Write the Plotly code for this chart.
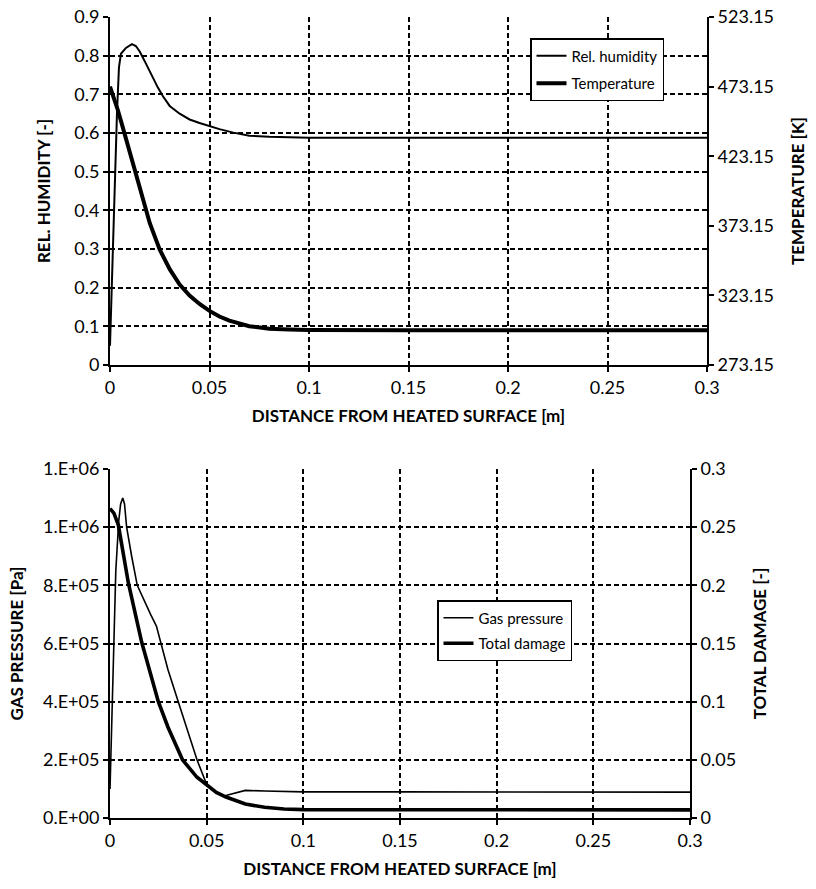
import plotly.graph_objects as go

# ---------------- Top panel data ----------------
dist_rh = [0, 0.0008, 0.0015, 0.0025, 0.0035, 0.0045, 0.0055, 0.008, 0.011, 0.013,
           0.015, 0.018, 0.021, 0.024, 0.0266, 0.030, 0.035, 0.040, 0.045, 0.050,
           0.055, 0.062, 0.070, 0.080, 0.090, 0.10, 0.15, 0.20, 0.25, 0.30]
rel_humidity = [0.05, 0.20, 0.32, 0.47, 0.65, 0.77, 0.805, 0.82, 0.83, 0.825,
                0.81, 0.78, 0.748, 0.718, 0.695, 0.670, 0.650, 0.635, 0.626, 0.618,
                0.610, 0.601, 0.593, 0.590, 0.589, 0.588, 0.588, 0.588, 0.588, 0.588]

dist_temp = [0, 0.002, 0.004, 0.006, 0.008, 0.010, 0.012, 0.014, 0.016, 0.018,
             0.020, 0.025, 0.030, 0.035, 0.040, 0.045, 0.050, 0.055, 0.060, 0.070,
             0.080, 0.090, 0.10, 0.15, 0.20, 0.25, 0.30]
temperature_k = [473.15, 465, 456, 446, 436, 425, 414, 404, 394, 384,
                 375, 356, 342, 331, 323, 317, 312, 308, 305, 301,
                 299.2, 298.6, 298.3, 298.15, 298.15, 298.15, 298.15]

# ---------------- Bottom panel data ----------------
dist_gas = [0, 0.0008, 0.0015, 0.003, 0.0045, 0.0055, 0.0066, 0.0075, 0.0086, 0.0100,
            0.0112, 0.0141, 0.018, 0.021, 0.024, 0.0264, 0.030, 0.0353, 0.040, 0.045,
            0.050, 0.055, 0.059, 0.065, 0.070, 0.080, 0.10, 0.15, 0.20, 0.25, 0.30]
gas_pressure = [1.0e5, 3.0e5, 5.2e5, 8.5e5, 1.02e6, 1.08e6, 1.10e6, 1.08e6, 1.0e6, 9.4e5,
                9.0e5, 8.0e5, 7.4e5, 7.0e5, 6.6e5, 6.0e5, 5.1e5, 4.0e5, 3.0e5, 2.0e5,
                1.15e5, 8.8e4, 7.6e4, 8.6e4, 9.5e4, 9.3e4, 9.0e4, 9.0e4, 9.0e4, 8.9e4, 8.9e4]

dist_damage = [0, 0.002, 0.0043, 0.0095, 0.0164, 0.025, 0.030, 0.0375, 0.045, 0.050,
               0.055, 0.060, 0.070, 0.080, 0.090, 0.10, 0.15, 0.20, 0.25, 0.30]
total_damage = [0.266, 0.262, 0.252, 0.202, 0.151, 0.100, 0.078, 0.050, 0.035, 0.028,
                0.022, 0.018, 0.012, 0.0092, 0.0078, 0.0072, 0.0070, 0.0070, 0.0070, 0.0070]

# ---------------- Tick labels ----------------
x_tickvals = [0, 0.05, 0.1, 0.15, 0.2, 0.25, 0.3]
x_ticktext = ["0", "0.05", "0.1", "0.15", "0.2", "0.25", "0.3"]
rh_tickvals = [0, 0.1, 0.2, 0.3, 0.4, 0.5, 0.6, 0.7, 0.8, 0.9]
rh_ticktext = ["0", "0.1", "0.2", "0.3", "0.4", "0.5", "0.6", "0.7", "0.8", "0.9"]
temp_tickvals = [273.15, 323.15, 373.15, 423.15, 473.15, 523.15]
temp_ticktext = ["273.15", "323.15", "373.15", "423.15", "473.15", "523.15"]
gas_tickvals = [0, 2e5, 4e5, 6e5, 8e5, 1.0e6, 1.2e6]
gas_ticktext = ["0.E+00", "2.E+05", "4.E+05", "6.E+05", "8.E+05", "1.E+06", "1.E+06"]
damage_tickvals = [0, 0.05, 0.1, 0.15, 0.2, 0.25, 0.3]
damage_ticktext = ["0", "0.05", "0.1", "0.15", "0.2", "0.25", "0.3"]

W, H = 816, 889
FONT = "Lato"
TICKFONT = dict(family=FONT, size=18, color="black")
TITLEFONT = dict(family=FONT, size=17, color="black", weight="bold")
LEGFONT = dict(family=FONT, size=15, color="black")


def px_x(p):
    return p / W


def px_y(p):
    return 1 - p / H


fig = go.Figure()

fig.add_trace(go.Scatter(x=dist_rh, y=rel_humidity, mode="lines", name="Rel. humidity",
                         line=dict(color="black", width=2), xaxis="x", yaxis="y",
                         legend="legend", legendgroup="a"))
fig.add_trace(go.Scatter(x=dist_temp, y=temperature_k, mode="lines", name="Temperature",
                         line=dict(color="black", width=4), xaxis="x", yaxis="y2",
                         legend="legend", legendgroup="b"))
fig.add_trace(go.Scatter(x=dist_gas, y=gas_pressure, mode="lines", name="Gas pressure",
                         line=dict(color="black", width=1.6), xaxis="x2", yaxis="y3",
                         legend="legend2", legendgroup="c"))
fig.add_trace(go.Scatter(x=dist_damage, y=total_damage, mode="lines", name="Total damage",
                         line=dict(color="black", width=3.6), xaxis="x2", yaxis="y4",
                         legend="legend2", legendgroup="d"))

grid = dict(showgrid=True, gridcolor="black", gridwidth=1.6, griddash="5px,3px")
axline = dict(showline=True, linecolor="black", linewidth=2, ticks="outside",
              ticklen=5, tickwidth=1.5, tickcolor="black", tickfont=TICKFONT,
              zeroline=False, automargin=False, ticklabeloverflow="allow")

top_x = [px_x(110), px_x(707)]
top_y = [px_y(365), px_y(17)]
bot_x = [px_x(110), px_x(690)]
bot_y = [px_y(818), px_y(469)]

fig.update_layout(
    width=W, height=H,
    margin=dict(l=0, r=0, t=0, b=0),
    paper_bgcolor="white", plot_bgcolor="white",
    showlegend=True,
    xaxis=dict(domain=top_x, anchor="y", range=[0, 0.3], tickmode="array",
               tickvals=x_tickvals, ticktext=x_ticktext,
               title=dict(text="DISTANCE FROM HEATED SURFACE [m]", font=TITLEFONT, standoff=14),
               **grid, **axline),
    yaxis=dict(domain=top_y, anchor="x", range=[0, 0.9], tickmode="array",
               tickvals=rh_tickvals, ticktext=rh_ticktext,
               title=dict(text="REL. HUMIDITY [-]", font=TITLEFONT, standoff=19),
               **grid, **axline),
    yaxis2=dict(domain=top_y, anchor="x", overlaying="y", side="right", range=[273.15, 523.15],
                tickmode="array", tickvals=temp_tickvals, ticktext=temp_ticktext,
                showgrid=False,
                title=dict(text="TEMPERATURE [K]", font=TITLEFONT, standoff=19),
                **axline),
    xaxis2=dict(domain=bot_x, anchor="y3", range=[0, 0.3], tickmode="array",
                tickvals=x_tickvals, ticktext=x_ticktext,
                title=dict(text="DISTANCE FROM HEATED SURFACE [m]", font=TITLEFONT, standoff=14),
                **grid, **axline),
    yaxis3=dict(domain=bot_y, anchor="x2", range=[0, 1.2e6], tickmode="array",
                tickvals=gas_tickvals, ticktext=gas_ticktext,
                title=dict(text="GAS PRESSURE [Pa]", font=TITLEFONT, standoff=15),
                **grid, **axline),
    yaxis4=dict(domain=bot_y, anchor="x2", overlaying="y3", side="right", range=[0, 0.3],
                tickmode="array", tickvals=damage_tickvals, ticktext=damage_ticktext,
                showgrid=False,
                title=dict(text="TOTAL DAMAGE [-]", font=TITLEFONT, standoff=19),
                **axline),
    legend=dict(x=px_x(664), y=px_y(38), xanchor="right", yanchor="top",
                bgcolor="white", bordercolor="black", borderwidth=1.5,
                font=LEGFONT, itemwidth=30, tracegroupgap=5),
    legend2=dict(x=px_x(572), y=px_y(600), xanchor="right", yanchor="top",
                 bgcolor="white", bordercolor="black", borderwidth=1.5,
                 font=LEGFONT, itemwidth=30, tracegroupgap=3),
)

fig.write_html("out.html",
               config={"displayModeBar": False},
               post_script="document.body.style.margin='0';document.body.style.overflow='hidden';")
